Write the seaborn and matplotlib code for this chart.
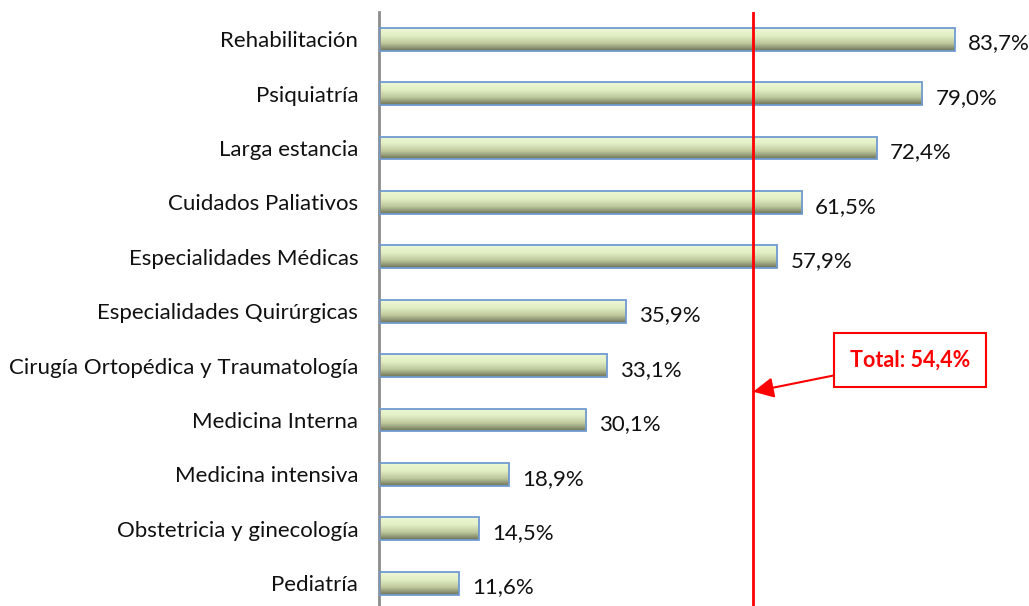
import numpy as np
import pandas as pd
import matplotlib
matplotlib.use("Agg")
import matplotlib.pyplot as plt
import seaborn as sns
from matplotlib.colors import LinearSegmentedColormap

categories = ["Rehabilitación", "Psiquiatría", "Larga estancia", "Cuidados Paliativos",
              "Especialidades Médicas", "Especialidades Quirúrgicas",
              "Cirugía Ortopédica y Traumatología", "Medicina Interna",
              "Medicina intensiva", "Obstetricia y ginecología", "Pediatría"]
values = [83.7, 79.0, 72.4, 61.5, 57.9, 35.9, 33.1, 30.1, 18.9, 14.5, 11.6]
total = 54.4
total_label = "Total: 54,4%"

sns.set_theme(style="white")
plt.rcParams['font.family'] = ['Lato', 'DejaVu Sans']

df = pd.DataFrame({"cat": categories, "val": values})

fig = plt.figure(figsize=(10.29, 6.06), dpi=100)
ax = fig.add_axes([379/1029, 0.0, 1 - 379/1029, 1 - 12/606])

sns.barplot(data=df, y="cat", x="val", orient="h", ax=ax, width=0.42,
            color="#dfeec0", edgecolor="#6f9bd1", linewidth=1.3)

cmap = LinearSegmentedColormap.from_list("g", ["#eef8d6", "#e2efc4", "#bcc79c", "#6b7053"])
grad = np.linspace(0, 1, 256).reshape(-1, 1)
for p in ax.patches:
    x0, y0 = p.get_x(), p.get_y()
    w, h = p.get_width(), p.get_height()
    im = ax.imshow(grad, cmap=cmap, aspect="auto",
                   extent=[x0, x0 + w, y0 + h, y0], origin="upper", zorder=p.get_zorder() - 0.1)
    im.set_clip_path(p)
    p.set_facecolor("none")
    p.set_zorder(3)

ax.set_xlim(0, 94.5)
ax.set_ylim(10.42, -0.5)

for i, v in enumerate(values):
    ax.text(v + 1.9, i + 0.08, f"{v:.1f}%".replace(".", ","), va="center", ha="left",
            fontsize=16, color="#111111")

ax.axvline(total, color="#ff0000", lw=2, zorder=4)
ax.annotate(total_label, xy=(total, 6.48), xytext=(77.2, 5.9),
            ha="center", va="center", fontsize=15.5, fontweight="bold", color="#ff0000",
            bbox=dict(boxstyle="square,pad=0.75", fc="white", ec="#ff0000", lw=1.5),
            arrowprops=dict(arrowstyle="-|>,head_length=0.8,head_width=0.4", color="#ff0000", lw=1.5,
                            shrinkA=0, shrinkB=0),
            zorder=5)

ax.set_xlabel("")
ax.set_ylabel("")
ax.set_xticks([])
ax.tick_params(axis="y", length=0, labelsize=16, pad=15, labelcolor="#111111")
for s in ["top", "right", "bottom"]:
    ax.spines[s].set_visible(False)
ax.spines["left"].set_color("#8c8c8c")
ax.spines["left"].set_linewidth(2)

fig.savefig("out.png", dpi=100)
